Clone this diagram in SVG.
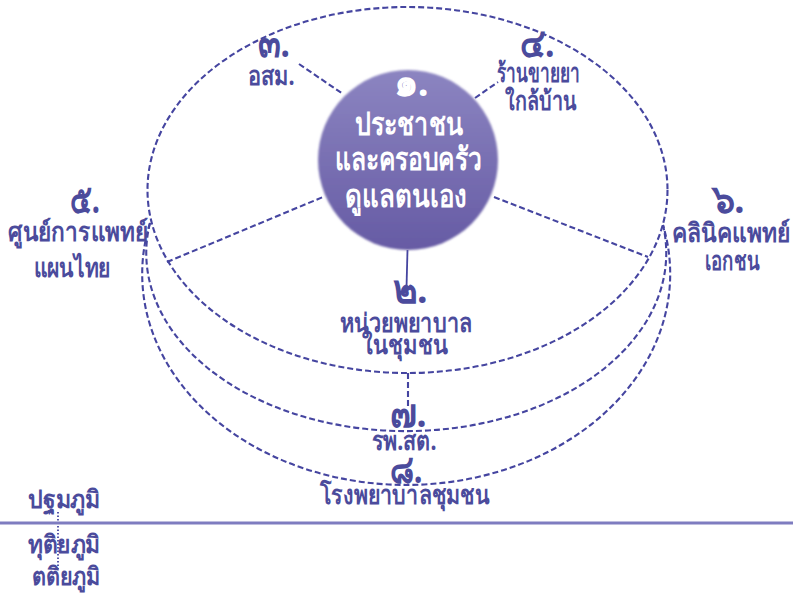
<svg xmlns="http://www.w3.org/2000/svg" width="793" height="596" viewBox="0 0 793 596">
<style>
.dash{fill:none;stroke:#4545a0;stroke-width:2.1;stroke-dasharray:6 3}
.lbl{font-family:"Noto Sans","DejaVu Sans",sans-serif;fill:#4b4b9c;font-size:26px;text-anchor:middle;font-weight:bold}
.num{font-family:"Noto Sans","DejaVu Sans",sans-serif;fill:#4b4b9c;font-size:40px;text-anchor:middle;font-weight:bold}
.wt{font-family:"Noto Sans","DejaVu Sans",sans-serif;fill:#ffffff;font-size:32px;text-anchor:middle;font-weight:bold}
.wn{font-family:"Noto Sans","DejaVu Sans",sans-serif;fill:#ffffff;font-size:40px;text-anchor:middle;font-weight:bold}
.lvl{font-family:"Noto Sans","DejaVu Sans",sans-serif;fill:#4b4b9c;font-size:25px;font-weight:bold}
</style>
<defs>
<linearGradient id="cg" x1="0" y1="0" x2="0" y2="1">
<stop offset="0" stop-color="#8c85c1"/>
<stop offset="1" stop-color="#665ba4"/>
</linearGradient>
<filter id="soft" x="-10%" y="-10%" width="120%" height="120%"><feGaussianBlur stdDeviation="1"/></filter>
</defs>
<rect width="793" height="596" fill="#ffffff"/>
<g id="connectors">
<ellipse class="dash" cx="407.5" cy="190" rx="260" ry="183"/>
<path class="dash" d="M150 223 A260 178 0 1 0 663 225"/>
<path class="dash" d="M150 223 A264 211 0 1 0 663 225"/>
<line class="dash" x1="299" y1="64" x2="343" y2="94"/>
<line class="dash" x1="475" y1="98" x2="498" y2="82"/>
<line class="dash" x1="167" y1="262" x2="323" y2="197"/>
<line class="dash" x1="494" y1="197" x2="648" y2="257"/>
<line x1="407.5" y1="250" x2="406.5" y2="288" stroke="#4545a0" stroke-width="1.8"/>
<line class="dash" x1="408" y1="373" x2="408" y2="406"/>
<line x1="58" y1="512" x2="58" y2="571" stroke="#4545a0" stroke-width="1.8" stroke-dasharray="1.5 2"/>
<line x1="0" y1="523" x2="793" y2="523" stroke="#7e7cc0" stroke-width="3"/>
</g>
<g id="n1">
<circle cx="408" cy="160" r="90" fill="url(#cg)" filter="url(#soft)"/>
<text class="wn" x="411" y="96" textLength="35" lengthAdjust="spacingAndGlyphs">๑.</text>
<text class="wt" x="409" y="135" textLength="108" lengthAdjust="spacingAndGlyphs">ประชาชน</text>
<text class="wt" x="408" y="170" textLength="147" lengthAdjust="spacingAndGlyphs">และครอบครัว</text>
<text class="wt" x="406" y="207" textLength="122" lengthAdjust="spacingAndGlyphs">ดูแลตนเอง</text>
</g>
<g id="n2">
<text class="num" x="410" y="303" textLength="35" lengthAdjust="spacingAndGlyphs">๒.</text>
<text class="lbl" x="406" y="332" textLength="133" lengthAdjust="spacingAndGlyphs">หน่วยพยาบาล</text>
<text class="lbl" x="405" y="354" textLength="86" lengthAdjust="spacingAndGlyphs">ในชุมชน</text>
</g>
<g id="n3">
<text class="num" x="274" y="57" textLength="32" lengthAdjust="spacingAndGlyphs">๓.</text>
<text class="lbl" x="271" y="85" textLength="47" lengthAdjust="spacingAndGlyphs">อสม.</text>
</g>
<g id="n4">
<text class="num" x="537" y="57" textLength="35" lengthAdjust="spacingAndGlyphs">๔.</text>
<text class="lbl" x="538" y="82" textLength="83" lengthAdjust="spacingAndGlyphs">ร้านขายยา</text>
<text class="lbl" x="541" y="110" textLength="72" lengthAdjust="spacingAndGlyphs">ใกล้บ้าน</text>
</g>
<g id="n5">
<text class="num" x="85" y="213" textLength="30" lengthAdjust="spacingAndGlyphs">๕.</text>
<text class="lbl" x="78" y="241" textLength="140" lengthAdjust="spacingAndGlyphs">ศูนย์การแพทย์</text>
<text class="lbl" x="72" y="277" textLength="77" lengthAdjust="spacingAndGlyphs">แผนไทย</text>
</g>
<g id="n6">
<text class="num" x="728" y="213" textLength="33" lengthAdjust="spacingAndGlyphs">๖.</text>
<text class="lbl" x="731" y="242" textLength="118" lengthAdjust="spacingAndGlyphs">คลินิคแพทย์</text>
<text class="lbl" x="732" y="270" textLength="55" lengthAdjust="spacingAndGlyphs">เอกชน</text>
</g>
<g id="n7">
<text class="num" x="408" y="427" textLength="37" lengthAdjust="spacingAndGlyphs">๗.</text>
<text class="lbl" x="404" y="450" textLength="65" lengthAdjust="spacingAndGlyphs">รพ.สต.</text>
</g>
<g id="n8">
<text class="num" x="406" y="483" textLength="33" lengthAdjust="spacingAndGlyphs">๘.</text>
<text class="lbl" x="405" y="504" textLength="170" lengthAdjust="spacingAndGlyphs">โรงพยาบาลชุมชน</text>
</g>
<g id="levels">
<text class="lvl" x="28" y="508" textLength="72" lengthAdjust="spacingAndGlyphs">ปฐมภูมิ</text>
<text class="lvl" x="28" y="553" textLength="72" lengthAdjust="spacingAndGlyphs">ทุติยภูมิ</text>
<text class="lvl" x="32" y="585" textLength="68" lengthAdjust="spacingAndGlyphs">ตติยภูมิ</text>
</g>
</svg>
